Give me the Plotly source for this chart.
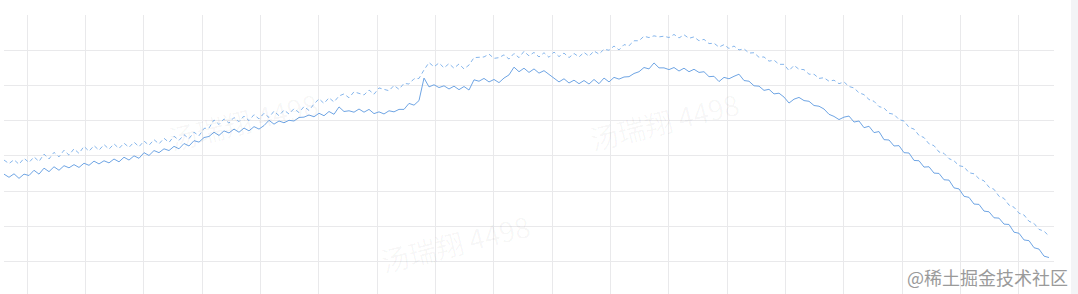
import plotly.graph_objects as go

# sample index (time steps)
steps = list(range(210))

# solid series
actual = [
    34.8, 33.9, 34.9, 33.6, 34.8, 34.4, 35.9, 34.8, 36.5, 35.5,
    36.9, 35.9, 37.2, 36.6, 37.5, 36.7, 37.9, 37.3, 38.5, 37.7,
    38.6, 38.0, 39.1, 38.3, 39.6, 38.8, 40.0, 39.3, 40.9, 40.1,
    41.5, 40.9, 42.0, 41.5, 42.7, 42.0, 43.5, 42.8, 44.3, 43.9,
    45.2, 45.5, 46.7, 45.8, 47.1, 46.5, 47.6, 46.7, 47.9, 47.1,
    48.3, 47.6, 48.6, 50.1, 49.0, 49.9, 49.4, 50.1, 49.9, 50.9,
    51.0, 51.6, 51.1, 52.1, 51.4, 52.6, 51.8, 53.9, 52.6, 52.8,
    52.4, 53.3, 52.4, 53.2, 52.0, 52.5, 51.9, 52.8, 52.5, 53.2,
    53.2, 54.9, 54.4, 55.7, 62.1, 59.6, 60.2, 59.4, 59.9, 59.0,
    59.8, 58.8, 59.7, 58.7, 61.6, 61.2, 62.0, 61.0, 61.7, 60.8,
    62.1, 63.0, 65.2, 63.9, 64.9, 63.7, 64.7, 63.5, 64.2, 63.2,
    62.0, 61.0, 61.9, 60.7, 61.5, 60.5, 61.4, 60.4, 61.7, 60.5,
    62.1, 61.0, 62.3, 61.8, 62.4, 62.5, 63.4, 63.9, 65.1, 64.7,
    66.4, 65.0, 65.0, 64.5, 65.1, 64.1, 64.9, 63.9, 64.6, 63.7,
    63.9, 62.5, 62.6, 61.1, 62.3, 61.9, 62.6, 63.2, 61.4, 61.2,
    59.9, 59.8, 58.6, 58.9, 57.6, 57.8, 56.7, 55.0, 56.1, 56.6,
    55.7, 55.5, 54.3, 54.1, 53.3, 51.8, 51.2, 50.3, 51.0, 51.3,
    49.6, 49.9, 48.0, 48.4, 46.6, 46.9, 44.6, 44.5, 42.8, 42.9,
    40.9, 40.8, 38.7, 38.6, 36.8, 36.9, 35.1, 35.0, 33.2, 33.1,
    30.9, 30.6, 28.5, 28.2, 26.3, 26.2, 24.3, 24.1, 22.4, 22.3,
    20.6, 20.5, 18.3, 18.0, 16.1, 15.9, 13.9, 13.5, 11.5, 11.1,
]

# dashed series
forecast = [
    38.8, 37.8, 38.9, 37.6, 39.3, 38.1, 39.7, 38.4, 40.5, 39.1,
    41.0, 39.7, 41.6, 40.2, 42.0, 40.7, 42.7, 41.3, 42.9, 41.6,
    43.2, 41.9, 43.4, 42.1, 43.6, 42.4, 43.9, 42.6, 44.2, 43.0,
    44.6, 43.4, 45.0, 43.8, 45.6, 44.4, 46.0, 44.9, 46.7, 45.7,
    47.8, 47.9, 50.2, 48.9, 50.5, 49.3, 50.9, 49.7, 51.3, 50.0,
    51.7, 50.5, 52.1, 50.9, 52.7, 51.4, 53.0, 51.9, 53.4, 52.3,
    54.0, 52.9, 54.7, 56.2, 54.9, 56.5, 55.3, 57.0, 57.6, 56.5,
    58.2, 57.8, 57.3, 58.7, 57.5, 59.3, 59.0, 58.5, 60.0, 58.9,
    60.6, 60.4, 61.9, 62.0, 64.4, 66.5, 65.3, 66.4, 65.0, 66.2,
    64.9, 66.1, 64.7, 65.8, 67.9, 67.9, 68.1, 68.9, 67.7, 67.9,
    68.7, 67.5, 69.1, 67.9, 69.7, 68.4, 69.4, 68.1, 69.3, 68.0,
    69.5, 68.2, 69.2, 67.9, 69.1, 68.1, 69.4, 68.3, 69.8, 68.9,
    70.3, 70.0, 71.2, 70.1, 71.6, 71.3, 72.7, 72.7, 74.0, 73.6,
    74.1, 73.8, 74.0, 73.6, 74.5, 73.5, 74.4, 73.4, 73.8, 72.7,
    73.1, 71.9, 72.0, 70.9, 71.6, 70.5, 71.2, 70.1, 70.4, 69.2,
    69.3, 68.0, 68.1, 66.9, 67.2, 66.0, 66.0, 64.2, 65.7, 64.6,
    64.5, 63.2, 63.2, 62.0, 62.2, 61.2, 61.5, 60.5, 61.0, 59.7,
    59.3, 57.9, 57.4, 56.0, 55.5, 54.0, 53.6, 52.1, 51.8, 50.3,
    49.9, 48.1, 47.6, 45.8, 45.2, 43.4, 42.9, 41.1, 40.7, 39.2,
    38.6, 37.2, 36.9, 35.2, 34.9, 33.5, 32.9, 31.1, 30.5, 28.5,
    27.9, 26.0, 25.4, 23.7, 23.2, 21.4, 20.8, 19.1, 18.6, 17.2,
]

watermark = "汤瑞翔 4498"
credit = "@稀土掘金技术社区"

fig = go.Figure()
fig.add_trace(go.Scatter(x=steps, y=forecast, mode="lines",
                         line=dict(color="#86b6ec", width=1, dash="4px,3px"),
                         showlegend=False))
fig.add_trace(go.Scatter(x=steps, y=actual, mode="lines",
                         line=dict(color="#6fa5e4", width=1),
                         showlegend=False))

grid = "#e9e9eb"
fig.update_layout(
    width=1078, height=294,
    margin=dict(l=4, r=24, t=15, b=0),
    paper_bgcolor="white", plot_bgcolor="white",
    xaxis=dict(range=[0, 210], tick0=4.6, dtick=35 / 3, showgrid=True,
               gridcolor=grid, gridwidth=1, showticklabels=False,
               zeroline=False, showline=False, ticks=""),
    yaxis=dict(range=[0.74, 80.02], tick0=0, dtick=10, showgrid=True,
               gridcolor=grid, gridwidth=1, showticklabels=False,
               zeroline=False, showline=False, ticks=""),
)

# faint watermarks
for px, py in [(162, 0.62), (455, 0.04), (745, 0.62)]:
    fig.add_annotation(x=(px - 4) / 1050, y=py, xref="paper", yref="paper",
                       text=watermark, showarrow=False, textangle=-14,
                       font=dict(size=28, color="rgba(0,0,0,0.035)",
                                 family="Noto Sans CJK SC"))

# right grey strip
fig.add_shape(type="rect", xref="paper", yref="paper",
              x0=(1071 - 4) / 1050, x1=(1078 - 4) / 1050, y0=0, y1=1.06,
              fillcolor="#f3f4f6", line=dict(width=0), layer="above")

fig.add_annotation(x=(1070 - 4) / 1050, y=(294 - 277) / 279, xref="paper",
                   yref="paper", xanchor="right", yanchor="middle",
                   text=credit, showarrow=False,
                   font=dict(size=18, color="#9a9a9a",
                             family="Noto Sans CJK SC"))

fig.write_html("out.html")
